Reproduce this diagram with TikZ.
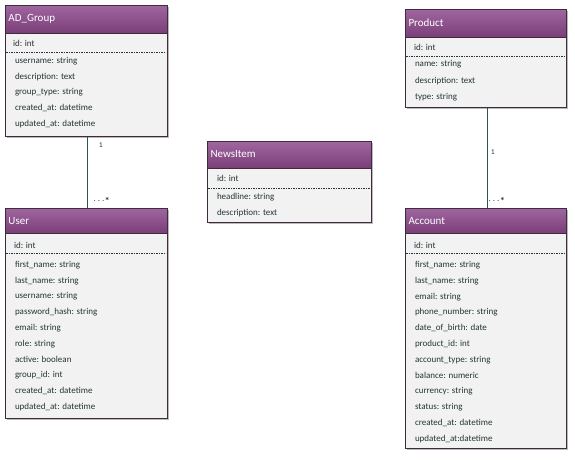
\documentclass[tikz,border=0pt]{standalone}
\usepackage{fontspec}
\setmainfont{Carlito}
\usetikzlibrary{shadows}
\definecolor{headtop}{HTML}{A066A0}
\definecolor{headbot}{HTML}{7A3F79}
\definecolor{boxbg}{HTML}{F2F2F2}
\definecolor{boxline}{HTML}{3E2C3E}
\definecolor{txt}{HTML}{253535}
\definecolor{conn}{HTML}{2D5555}
\tikzset{
  every node/.style={inner sep=0pt, outer sep=0pt},
  classbody/.style={draw=boxline, line width=0.9pt, fill=boxbg, anchor=north west,
    drop shadow={shadow xshift=1.5pt, shadow yshift=-2pt, fill=black!45, opacity=0.6}},
  classhead/.style={draw=boxline, line width=0.9pt, top color=headtop, bottom color=headbot, anchor=north west},
  title/.style={anchor=west, text=white, font=\fontsize{11}{12}\selectfont},
  attr/.style={anchor=west, text=txt, font=\fontsize{9}{10}\selectfont},
  sep/.style={draw=txt, line width=0.6pt, dash pattern=on 1.6pt off 0.9pt},
  assoc/.style={draw=conn, line width=0.9pt},
  mult/.style={text=txt, font=\fontsize{8}{9}\selectfont\ttfamily}
}
\begin{document}
\begin{tikzpicture}[x=1pt,y=-1pt]
\useasboundingbox (0,0) rectangle (575,459);

% ---------- AD_Group ----------
\node[classbody, minimum width=162pt, minimum height=131pt] (adgroup) at (5,5) {};
\node[classhead, minimum width=162pt, minimum height=28pt] (adgrouph) at (5,5) {};
\node[title] (adgroupt) at (8.5,19) {AD\_Group};
\node[attr] (adgroup0) at (13,43) {id: int};
\coordinate (adgroupsl) at (6,52); \coordinate (adgroupsr) at (166,52);
\draw[sep] (adgroupsl) -- (adgroupsr);
\foreach \t [count=\i] in {username: string, description: text, group\_type: string, created\_at: datetime, updated\_at: datetime}
  \node[attr] (adgroup\i) at (15,{61+15.8*(\i-1)}) {\t};

% ---------- Product ----------
\node[classbody, minimum width=161pt, minimum height=98pt] (product) at (405,9) {};
\node[classhead, minimum width=161pt, minimum height=28pt] (producth) at (405,9) {};
\node[title] (productt) at (408.5,23) {Product};
\node[attr] (product0) at (414,47) {id: int};
\coordinate (productsl) at (406,56); \coordinate (productsr) at (565,56);
\draw[sep] (productsl) -- (productsr);
\foreach \t [count=\i] in {name: string, description: text, type: string}
  \node[attr] (product\i) at (415,{64.5+16.2*(\i-1)}) {\t};

% ---------- NewsItem ----------
\node[classbody, minimum width=164pt, minimum height=81pt] (news) at (207,141) {};
\node[classhead, minimum width=164pt, minimum height=27pt] (newsh) at (207,141) {};
\node[title] (newst) at (210.5,154) {NewsItem};
\node[attr] (news0) at (217,178) {id: int};
\coordinate (newssl) at (208,188); \coordinate (newssr) at (370,188);
\draw[sep] (newssl) -- (newssr);
\foreach \t [count=\i] in {headline: string, description: text}
  \node[attr] (news\i) at (217,{197+16*(\i-1)}) {\t};

% ---------- User ----------
\node[classbody, minimum width=162pt, minimum height=210pt] (user) at (5,208) {};
\node[classhead, minimum width=162pt, minimum height=25pt] (userh) at (5,208) {};
\node[title] (usert) at (8.5,221) {User};
\node[attr] (user0) at (14,245) {id: int};
\coordinate (usersl) at (6,253); \coordinate (usersr) at (166,253);
\draw[sep] (usersl) -- (usersr);
\foreach \t [count=\i] in {first\_name: string, last\_name: string, username: string, password\_hash: string, email: string, role: string, active: boolean, group\_id: int, created\_at: datetime, updated\_at: datetime}
  \node[attr] (user\i) at (15,{265+15.78*(\i-1)}) {\t};

% ---------- Account ----------
\node[classbody, minimum width=161pt, minimum height=240pt] (account) at (405,208) {};
\node[classhead, minimum width=161pt, minimum height=25pt] (accounth) at (405,208) {};
\node[title] (accountt) at (408.5,221) {Account};
\node[attr] (account0) at (414,245) {id: int};
\coordinate (accountsl) at (406,253); \coordinate (accountsr) at (565,253);
\draw[sep] (accountsl) -- (accountsr);
\foreach \t [count=\i] in {first\_name: string, last\_name: string, email: string, phone\_number: string, date\_of\_birth: date, product\_id: int, account\_type: string, balance: numeric, currency: string, status: string, created\_at: datetime, updated\_at:datetime}
  \node[attr] (account\i) at (415,{265+15.82*(\i-1)}) {\t};

% ---------- Associations ----------
\coordinate (adgb) at (87,136.5);
\coordinate (usert2) at (87,207.5);
\draw[assoc] (adgb) -- (usert2);
\node[mult] (m1) at (101,145) {1};
\node[mult] (m2) at (101,199) {...*};

\coordinate (prodb) at (487,107.5);
\coordinate (acct) at (487,207.5);
\draw[assoc] (prodb) -- (acct);
\node[mult] (m3) at (493,152) {1};
\node[mult] (m4) at (496,199) {...*};
\end{tikzpicture}
\end{document}
